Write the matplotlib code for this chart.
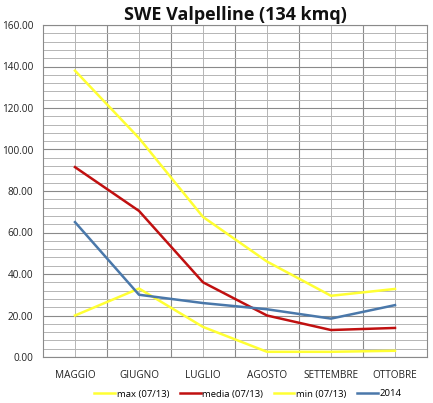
import matplotlib
matplotlib.use("Agg")
import matplotlib.pyplot as plt
from matplotlib.ticker import MultipleLocator, FixedLocator

months = ["MAGGIO", "GIUGNO", "LUGLIO", "AGOSTO", "SETTEMBRE", "OTTOBRE"]
swe_max = [138.0, 105.5, 67.5, 46.0, 29.5, 32.8]
swe_media = [91.5, 70.4, 36.0, 20.0, 13.0, 14.0]
swe_min = [20.0, 33.0, 14.5, 2.5, 2.5, 3.0]
swe_2014 = [65.0, 30.0, 26.0, 23.0, 18.5, 25.0]

plt.rcParams["font.family"] = ["Open Sans", "DejaVu Sans"]

fig = plt.figure(figsize=(4.33, 4.03), dpi=100)
ax = fig.add_axes([43 / 433, 1 - 357 / 403, 384 / 433, 332 / 403])

x = list(range(len(months)))
ax.plot(x, swe_max, color="#FFFF33", lw=1.8, label="max (07/13)")
ax.plot(x, swe_media, color="#C01010", lw=1.8, label="media (07/13)")
ax.plot(x, swe_min, color="#FFFF33", lw=1.8, label="min (07/13)")
ax.plot(x, swe_2014, color="#4A78AA", lw=1.8, label="2014")

ax.set_xlim(-0.5, len(months) - 0.5)
ax.set_ylim(0, 160)
ax.set_yticks(range(0, 161, 20))
ax.set_yticklabels([f"{v:.2f}" for v in range(0, 161, 20)])
ax.yaxis.set_minor_locator(MultipleLocator(4))
ax.set_xticks(x)
ax.set_xticklabels(months)
ax.xaxis.set_minor_locator(FixedLocator([i + 0.5 for i in x[:-1]]))

ax.grid(True, which="major", axis="y", color="#8a8a8a", lw=0.8)
ax.grid(True, which="minor", axis="y", color="#b5b5b5", lw=0.7)
ax.grid(True, which="major", axis="x", color="#b5b5b5", lw=0.7)
ax.grid(True, which="minor", axis="x", color="#8a8a8a", lw=0.8)
ax.set_axisbelow(True)
ax.tick_params(axis="both", which="both", length=0, labelsize=7.2, colors="#222222")
ax.tick_params(axis="x", pad=9)
ax.tick_params(axis="y", pad=7)
for s in ax.spines.values():
    s.set_color("#8a8a8a")
    s.set_linewidth(0.8)

fig.text(235 / 433, 1 - 15 / 403, "SWE Valpelline (134 kmq)", ha="center", va="center",
         fontsize=13, fontweight="bold", color="#111111")

fig.legend(loc="center", bbox_to_anchor=(248 / 433, 1 - 394 / 403), ncol=4, frameon=False,
           fontsize=6.8, handlelength=2.2, handletextpad=0.2, columnspacing=1.1)

fig.savefig("out.png", dpi=100)
